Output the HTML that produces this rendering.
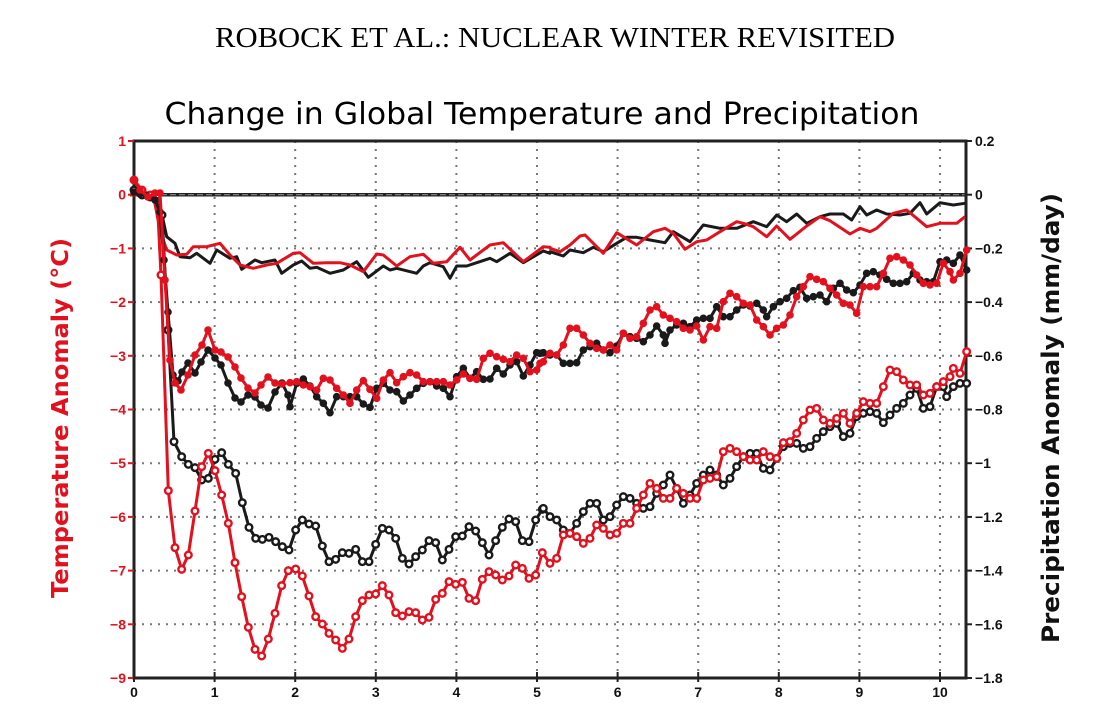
<!DOCTYPE html>
<html><head><meta charset="utf-8">
<style>
html,body{margin:0;padding:0;background:#fff;}
svg{display:block;}
</style></head>
<body>
<svg id="s" width="1100" height="718" xmlns="http://www.w3.org/2000/svg">
<text x="555" y="47" text-anchor="middle" font-family="Liberation Serif, serif" font-size="29" textLength="680" lengthAdjust="spacingAndGlyphs">ROBOCK ET AL.: NUCLEAR WINTER REVISITED</text>
<text x="542" y="124" text-anchor="middle" font-family="DejaVu Sans, sans-serif" font-size="30" font-weight="normal" textLength="755" lengthAdjust="spacingAndGlyphs">Change in Global Temperature and Precipitation</text>
<g id="grid"></g>
<g id="data"></g>
<text transform="translate(68,418) rotate(-90)" text-anchor="middle" font-family="DejaVu Sans, sans-serif" font-weight="bold" font-size="23" fill="#e3101e" textLength="360" lengthAdjust="spacingAndGlyphs">Temperature Anomaly (°C)</text>
<text transform="translate(1059,418) rotate(-90)" text-anchor="middle" font-family="DejaVu Sans, sans-serif" font-weight="bold" font-size="24" fill="#111" textLength="450" lengthAdjust="spacingAndGlyphs">Precipitation Anomaly (mm/day)</text>
</svg>
<script>
var NS="http://www.w3.org/2000/svg";
function el(p,t,a,txt){var e=document.createElementNS(NS,t);for(var k in a)e.setAttribute(k,a[k]);if(txt!==undefined)e.textContent=txt;p.appendChild(e);return e;}
var g=document.getElementById('grid'),d=document.getElementById('data');
var L=134,R=966,T=141,B=678,X0=134,XS=80.6;
function ty(v){return 194.7-v*53.7;}
for(var i=1;i<=10;i++){var x=X0+i*XS;el(g,'line',{x1:x,y1:T,x2:x,y2:B,stroke:'#777','stroke-width':2,'stroke-dasharray':'2,6'});}
for(var v=-8;v<=-1;v++){var y=ty(v);el(g,'line',{x1:L,y1:y,x2:R,y2:y,stroke:'#777','stroke-width':2,'stroke-dasharray':'2,6'});}
el(g,'line',{x1:L,y1:ty(0),x2:R,y2:ty(0),stroke:'#222','stroke-width':3.5});
el(g,'line',{x1:L,y1:ty(0),x2:R,y2:ty(0),stroke:'#888','stroke-width':1.2,'stroke-dasharray':'6,3'});
el(g,'rect',{x:L,y:T,width:R-L,height:B-T,fill:'none',stroke:'#222','stroke-width':3});
for(var v=1;v>=-9;v--){var y=ty(v);el(g,'line',{x1:L-6,y1:y,x2:L,y2:y,stroke:'#e3101e','stroke-width':2});
el(g,'text',{x:L-8,y:y+5,'text-anchor':'end','font-family':'Liberation Sans, sans-serif','font-weight':'bold','font-size':14,fill:'#e3101e'},(v<0?'\u2212':'')+Math.abs(v));}
for(var j=0;j<=10;j++){var p=(0.2-j*0.2);var y=T+j*(B-T)/10;el(g,'line',{x1:R,y1:y,x2:R+6,y2:y,stroke:'#222','stroke-width':2});
var s=Math.abs(p)<1e-9?'0':((p<0?'\u2212':'')+Math.abs(p).toFixed(1));
if(Math.abs(p-(-1))<1e-9)s='\u22121';
el(g,'text',{x:R+9,y:y+5,'font-family':'Liberation Sans, sans-serif','font-weight':'bold','font-size':14,fill:'#111'},s);}
for(var i=0;i<=10;i++){var x=X0+i*XS;el(g,'line',{x1:x,y1:B-6,x2:x,y2:B+4,stroke:'#222','stroke-width':2});
el(g,'text',{x:x,y:B+19,'text-anchor':'middle','font-family':'Liberation Sans, sans-serif','font-weight':'bold','font-size':14,fill:'#111'},''+i);}
function conv(arr,ox,oy){var o=[];for(var i=0;i<arr.length;i+=2)o.push([ox+arr[i]/3,oy+arr[i+1]/3]);return o;}
function flat(arr){var o=[];for(var i=0;i<arr.length;i+=2)o.push([arr[i],arr[i+1]]);return o;}
function poly(pts,col,w){el(d,'polyline',{points:pts.map(function(p){return p[0].toFixed(1)+','+p[1].toFixed(1)}).join(' '),fill:'none',stroke:col,'stroke-width':w,'stroke-linejoin':'round'});}
function marks(pts,col,open){pts.forEach(function(p){if(open)el(d,'circle',{cx:p[0],cy:p[1],r:3.3,fill:'#fff',stroke:col,'stroke-width':2.4});else el(d,'circle',{cx:p[0],cy:p[1],r:3.8,fill:col});});}
var RED='#e3101e',BLK='#1a1a1a';
var rThin=conv([0,15,70,15,90,120,110,180,140,195,170,193,190,170,230,170,270,160,300,195,330,225,370,235,410,225,440,220,490,190,510,188,550,220,590,218,630,218,660,225,700,245,740,192,760,195,800,228,840,200,880,193,910,220,950,215,990,172,1020,210,1080,165,1120,158,1180,215,1240,170,1260,172],130,190)
 .concat(conv([30,175,60,185,90,165,120,138,135,135,190,190,230,128,290,165,340,125,375,115,400,130,435,178,470,155,500,150,540,125,590,95,610,100,640,110,680,140,710,108,750,148,800,108,840,80,870,92,930,132,960,115,990,125,1010,115,1060,70,1100,60,1130,85,1160,110,1200,100,1250,100,1275,80],540,190));
var bThin=conv([0,15,70,15,95,70,110,140,135,160,150,200,180,203,200,190,240,220,260,180,300,205,320,200,335,238,375,210,395,218,435,210,455,250,490,225,515,213,540,235,560,232,600,250,640,240,680,215,715,262,760,228,780,240,800,235,860,250,880,228,900,218,940,230,960,265,980,228,1010,228,1040,218,1080,205,1100,215,1140,190,1180,218,1240,183,1260,190],130,190)
 .concat(conv([30,185,70,198,90,180,130,188,160,172,190,185,230,160,260,142,290,142,330,150,375,158,400,125,450,155,490,105,540,115,590,115,640,95,680,110,710,75,740,95,770,72,800,100,840,80,870,72,910,72,935,90,960,50,980,75,1010,60,1040,72,1080,75,1110,70,1140,38,1160,72,1200,38,1240,45,1275,40],540,190));
poly(bThin,BLK,3);poly(rThin,RED,3);
var bFill=flat([134,192,140,194,147,196,155,200,160,212,164,260,168,312,173,375,178,381,182,372,188,363,195,373,201,362,208,350,215,358,221,365,228,383,235,398,241,402,248,395,255,397,261,405,268,408,275,392,282,383,288,395])
 .concat(conv([0,320,20,250,40,237,60,258,80,290,100,310,120,338,140,290,160,290,180,290,200,290,220,312,240,322,260,265,280,250,300,270,320,275,340,303,360,285,380,265,400,250,420,245,440,258,460,265,480,290,500,230,520,205,540,235,560,215,580,238,600,237,620,205,640,222,660,195,680,185,700,228,720,195,740,158,760,158],290,300))
 .concat(conv([0,340,30,345,50,345,70,370,90,370,110,368,130,330,150,320,170,310,190,330,210,338,230,318,250,280,270,290,290,295,310,305,330,285,350,258,370,285,375,310,390,270,410,255,430,250,450,260,470,240,490,235,510,235,530,200,550,230,570,230,590,210,610,195,630,198,650,190,670,210,680,230,700,200,720,185,740,175,760,152,780,142,800,175,820,170,840,165,860,185,880,145,900,130,920,150,940,158,960,135,980,100,1000,95,1020,105,1040,118,1060,130,1080,130,1100,125,1120,100,1140,120,1160,125,1180,125,1200,65,1220,60,1240,70,1260,45,1280,90],540,240));
var rFill=flat([134,180,140,190,148,197,155,193,160,193,165,280,170,360,175,383,181,390,188,375,195,355,202,345,208,330,215,350,221,352,228,357,235,367,241,378,248,388,255,393,261,385,268,377,275,383,282,384])
 .concat(conv([0,248,20,245,40,255,60,260,80,270,100,235,120,240,140,265,160,285,180,310,200,270,220,242,240,268,260,295,280,240,300,218,320,248,340,230,360,218,380,225,400,245,420,245,440,245,460,245,480,255,500,240,520,222,540,235,560,238,580,175,600,160,620,170,640,178,660,185,680,165,700,175,720,215,740,210,760,185],290,300))
 .concat(conv([0,370,30,340,50,345,70,315,90,265,110,265,130,285,150,310,170,325,190,330,210,315,230,330,250,280,270,295,290,290,310,250,330,210,350,200,370,225,390,235,410,245,430,265,450,270,470,258,490,300,510,260,530,265,550,185,570,160,590,170,610,190,630,195,650,240,670,260,690,285,710,265,730,255,750,225,770,170,790,140,810,110,830,118,850,125,870,145,890,165,910,190,930,195,950,220,970,140,990,140,1010,140,1030,100,1050,55,1070,50,1090,60,1110,75,1130,105,1150,130,1170,135,1190,130,1210,70,1230,95,1240,120,1260,100,1280,30],540,240));
var bOpen=flat([134,190,142,195,150,197,157,200,162,215,168,330])
 .concat(conv([132,65,155,110,175,133,195,143,215,180,235,175,255,118,275,98,295,133,317,160,337,248,357,322,377,355,397,358,417,352,437,365,457,380,477,390,497,330,517,300,537,312,557,318,577,378,597,425,617,418,637,398,657,400,677,388,697,425,717,425,737,373,757,325,777,330,797,355,817,415,837,432,857,410,877,390,897,362,917,368,937,420,957,388,977,350,997,348,1017,320,1037,333,1057,368,1077,405,1097,362,1117,322,1137,297,1157,305,1177,362,1197,365,1217,300,1237,268],130,420))
 .concat(conv([10,805,30,830,50,840,70,870,90,880,110,850,130,815,150,790,170,790,190,840,210,830,230,795,250,770,270,775,290,790,310,805,330,800,350,760,370,735,390,705,410,745,430,790,450,765,470,730,490,705,510,690,530,705,550,735,570,715,590,680,610,650,630,640,650,640,670,685,690,690,710,655,730,620,750,610,770,610,790,625,810,620,830,595,850,575,870,560,890,550,910,590,930,580,950,530,970,520,990,515,1010,520,1030,548,1050,525,1070,505,1090,490,1110,465,1130,445,1150,505,1170,500,1190,440,1210,440,1220,470,1240,440,1260,430,1280,430],540,240));
var rOpen=flat([134,180,142,190,150,195,157,195,161,275])
 .concat(conv([115,212,135,383,155,448,175,405,195,273,215,140,235,100,255,152,275,225,295,310,315,428,335,530,355,622,375,688,395,708,415,657,435,580,455,497,475,452,497,447,517,468,537,528,557,590,577,612,597,640,617,660,637,685,657,657,677,590,697,542,717,525,737,522,757,497,777,525,797,578,817,588,837,575,857,578,877,600,897,592,917,538,937,520,957,485,977,493,997,487,1017,535,1037,542,1057,478,1077,455,1097,465,1117,480,1137,468,1157,435,1177,445,1197,475,1217,465,1237,398],130,420))
 .concat(conv([30,970,50,955,70,885,90,880,110,890,130,910,150,895,170,855,190,865,210,885,230,880,250,850,270,850,290,805,310,765,330,730,350,745,370,775,390,775,410,745,430,760,450,775,470,775,490,720,510,715,530,710,550,635,570,625,590,635,610,650,630,660,650,660,670,635,690,650,710,655,730,608,750,605,770,580,790,540,810,510,830,505,850,540,870,550,890,535,910,520,930,550,950,520,970,485,990,490,1010,490,1030,440,1050,390,1070,395,1090,420,1110,435,1130,435,1150,465,1170,460,1190,440,1210,425,1230,410,1240,385,1260,400,1280,335],540,240));
poly(bOpen,BLK,3);marks(bOpen,BLK,true);
poly(rOpen,RED,3);marks(rOpen,RED,true);
poly(bFill,BLK,3);marks(bFill,BLK,false);
poly(rFill,RED,3);marks(rFill,RED,false);
</script>
</body></html>
